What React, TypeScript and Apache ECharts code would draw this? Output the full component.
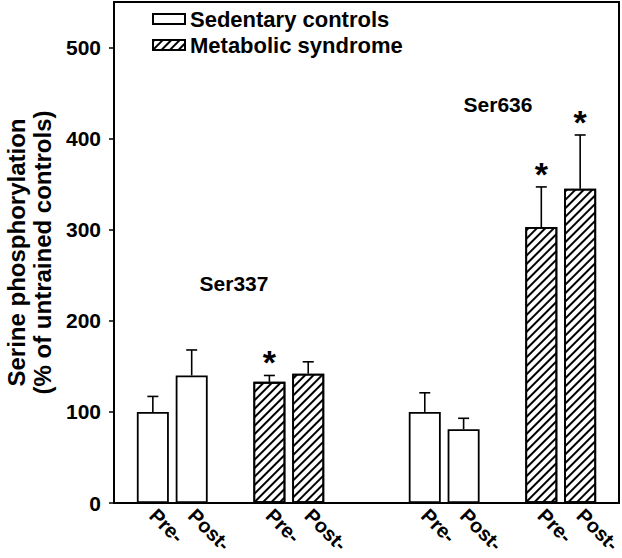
import React, { useEffect, useRef } from 'react';
import * as echarts from 'echarts';

const slotLabels = ['', 'Pre-', 'Post-', '', 'Pre-', 'Post-', '', '', 'Pre-', 'Post-', '', 'Pre-', 'Post-', ''];
const yTicks = [0, 100, 200, 300, 400, 500];

const sedentary337 = [100, 140];
const sedentary337Sem = [17, 28];
const metabolic337 = [133, 142];
const metabolic337Sem = [7, 13];
const sedentary636 = [100, 81];
const sedentary636Sem = [21, 12];
const metabolic636 = [303, 345];
const metabolic636Sem = [44, 59];
const metabolic337Sig = [true, false];
const metabolic636Sig = [true, true];

const sedentary337Slots = [1, 2];
const metabolic337Slots = [4, 5];
const sedentary636Slots = [8, 9];
const metabolic636Slots = [11, 12];

const FONT = '"Liberation Sans", Arial, sans-serif';

function fillSlots(parts: [number[], number[]][]) {
  const arr: (number | string)[] = slotLabels.map(() => '-');
  parts.forEach(([slots, vals]) => slots.forEach((s, i) => (arr[s] = vals[i])));
  return arr;
}

function errItems(slots: number[], means: number[], sems: number[], sig: boolean[]) {
  return slots.map((s, i) => [s, means[i], means[i] + sems[i], sig[i] ? 1 : 0]);
}

export default function App() {
  const ref = useRef<HTMLDivElement>(null);
  useEffect(() => {
    if (!ref.current) return;
    const chart = echarts.init(ref.current, undefined, { renderer: 'svg' });
    const none = [false, false];
    const errData = [
      ...errItems(sedentary337Slots, sedentary337, sedentary337Sem, none),
      ...errItems(metabolic337Slots, metabolic337, metabolic337Sem, metabolic337Sig),
      ...errItems(sedentary636Slots, sedentary636, sedentary636Sem, none),
      ...errItems(metabolic636Slots, metabolic636, metabolic636Sem, metabolic636Sig),
    ];
    chart.setOption({
      animation: false,
      backgroundColor: '#fff',
      grid: {
        left: 114, right: 3, top: 2, bottom: 55,
        show: true, borderColor: '#000', borderWidth: 2,
        outerBoundsMode: 'none', containLabel: false,
      },
      legend: {
        data: ['Sedentary controls', 'Metabolic syndrome'],
        orient: 'vertical',
        left: 147,
        top: 3,
        itemWidth: 32,
        itemHeight: 10,
        itemGap: 4,
        icon: 'rect',
        textStyle: { fontSize: 22, fontWeight: 'bold', fontFamily: FONT, color: '#000', lineHeight: 22 },
      },
      xAxis: {
        type: 'category',
        data: slotLabels,
        boundaryGap: false,
        axisLine: { lineStyle: { color: '#000', width: 2 } },
        axisTick: { show: false },
        axisLabel: {
          interval: 0,
          rotate: -45,
          margin: 9,
          fontSize: 20,
          fontWeight: 'bold',
          fontFamily: FONT,
          color: '#000',
        },
      },
      yAxis: {
        type: 'value',
        min: 0,
        max: 550,
        interval: 100,
        name: 'Serine phosphorylation\n(% of untrained controls)',
        nameLocation: 'middle',
        nameGap: 59,
        nameTextStyle: { fontSize: 24, fontWeight: 'bold', fontFamily: FONT, color: '#000', lineHeight: 26 },
        splitLine: { show: false },
        axisLine: { show: true, lineStyle: { color: '#000', width: 2 } },
        axisTick: { show: true, length: 5, customValues: yTicks, lineStyle: { color: '#000', width: 1.5 } },
        axisLabel: { customValues: yTicks, margin: 13, fontSize: 21, fontWeight: 'bold', fontFamily: FONT, color: '#000' },
      },
      graphic: [
        { type: 'text', x: 234, y: 283, style: { text: 'Ser337', font: `bold 21px ${FONT}`, fill: '#000', align: 'center', verticalAlign: 'middle' } },
        { type: 'text', x: 498, y: 104, style: { text: 'Ser636', font: `bold 21px ${FONT}`, fill: '#000', align: 'center', verticalAlign: 'middle' } },
      ],
      series: [
        {
          name: 'Sedentary controls',
          type: 'bar',
          barWidth: 32,
          barGap: '-100%',
          data: fillSlots([[sedentary337Slots, sedentary337], [sedentary636Slots, sedentary636]]),
          itemStyle: { color: '#fff', borderColor: '#000', borderWidth: 1.8 },
        },
        {
          name: 'Metabolic syndrome',
          type: 'bar',
          barWidth: 32,
          barGap: '-100%',
          data: fillSlots([[metabolic337Slots, metabolic337], [metabolic636Slots, metabolic636]]),
          itemStyle: {
            color: '#fff',
            borderColor: '#000',
            borderWidth: 1.8,
            decal: {
              symbol: 'rect',
              symbolSize: 1,
              color: '#000',
              backgroundColor: '#fff',
              dashArrayX: [1, 0],
              dashArrayY: [1.5, 4],
              rotation: -Math.PI / 4,
            },
          },
        },
        {
          type: 'custom',
          name: 'err',
          data: errData,
          z: 5,
          renderItem: (params: any, api: any) => {
            const x = api.value(0);
            const base = api.coord([x, api.value(1)]);
            const top = api.coord([x, api.value(2)]);
            const children: any[] = [
              { type: 'line', shape: { x1: base[0], y1: base[1], x2: top[0], y2: top[1] }, style: { stroke: '#000', lineWidth: 1.6 } },
              { type: 'line', shape: { x1: top[0] - 5.5, y1: top[1], x2: top[0] + 5.5, y2: top[1] }, style: { stroke: '#000', lineWidth: 1.6 } },
            ];
            if (api.value(3) === 1) {
              children.push({
                type: 'text',
                x: top[0],
                y: top[1] - 13,
                style: { text: '*', font: `bold 34px ${FONT}`, fill: '#000', align: 'center', verticalAlign: 'middle' },
              });
            }
            return { type: 'group', children };
          },
        },
      ],
    });
    return () => chart.dispose();
  }, []);
  return <div ref={ref} style={{ position: 'absolute', left: 0, top: 0, width: 622, height: 558 }} />;
}
